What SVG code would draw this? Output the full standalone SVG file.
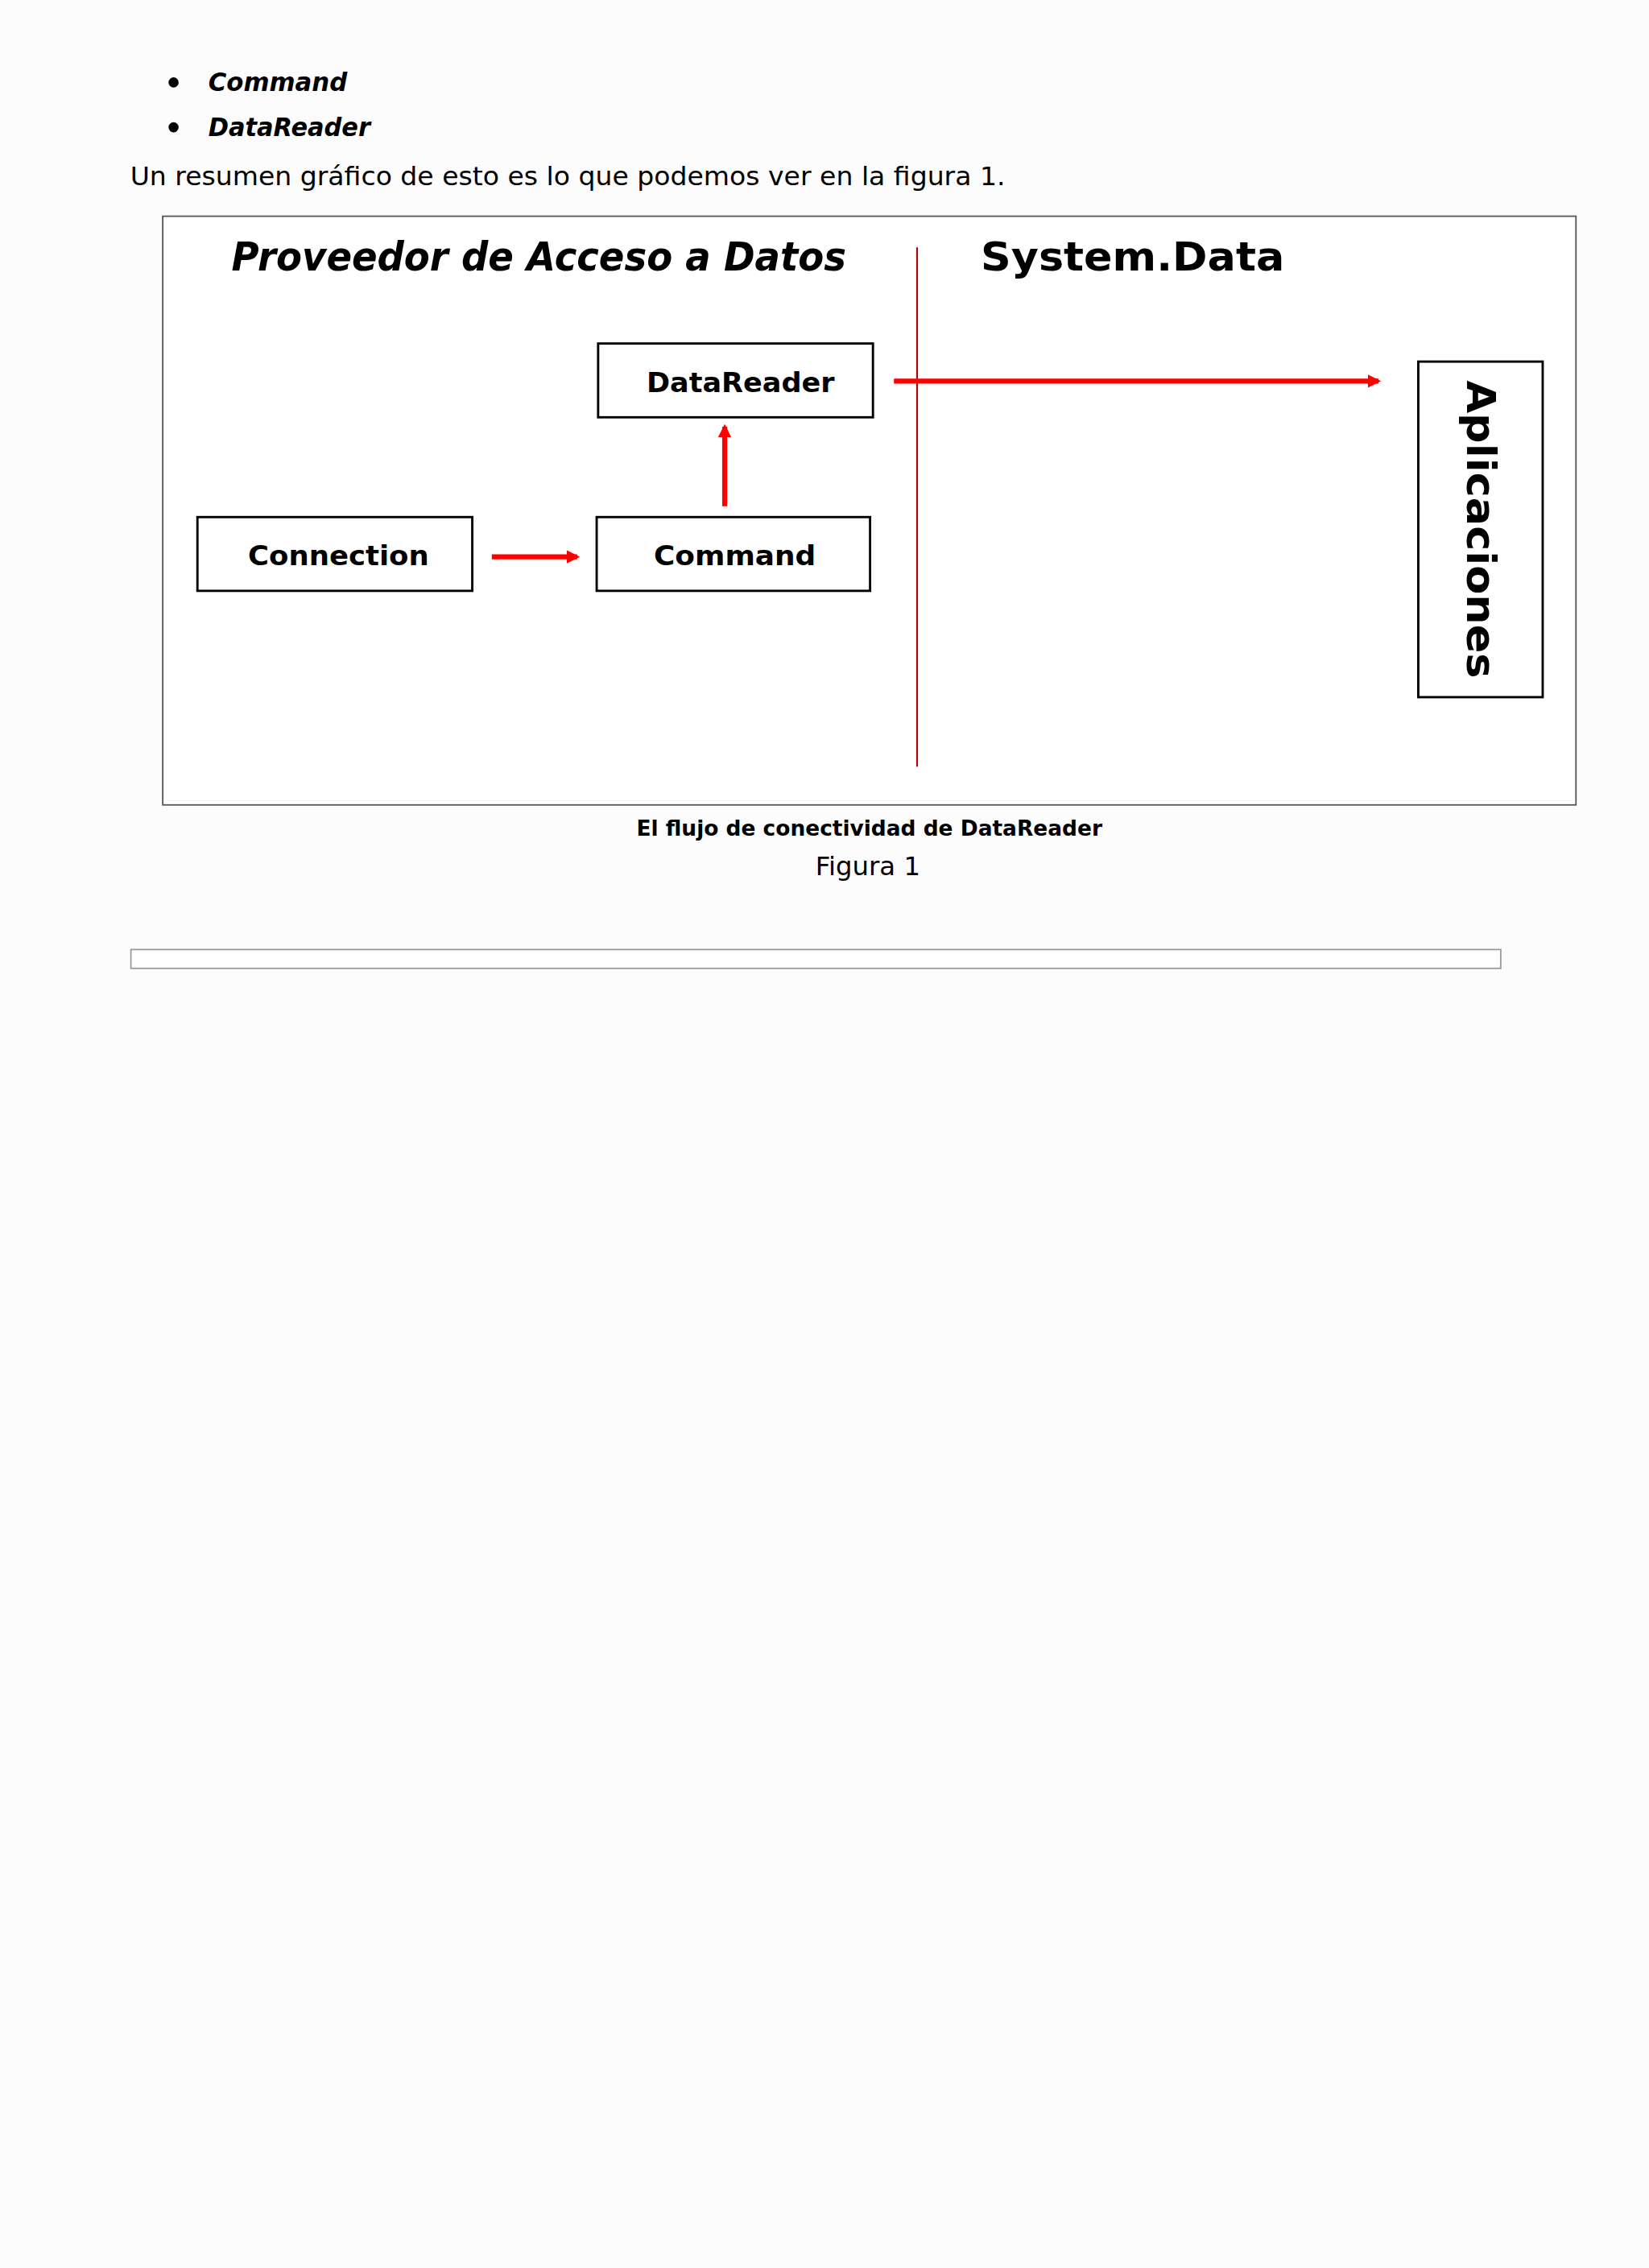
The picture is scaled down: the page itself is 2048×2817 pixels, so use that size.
<svg xmlns="http://www.w3.org/2000/svg" width="2048" height="2817" viewBox="0 0 2048 2817">
<defs>
<style>
.t{font-family:"DejaVu Sans","Liberation Sans",sans-serif;fill:#000}
.box{fill:#fff;stroke:#000;stroke-width:1.6}
.red{stroke:#f00;stroke-width:3.5;fill:none}
</style>
<marker id="ah" viewBox="0 0 10 10" refX="8" refY="5" markerWidth="2.6" markerHeight="3.2" orient="auto" markerUnits="strokeWidth"><path d="M0,0L10,5L0,10z" fill="#f00"/></marker>
</defs>
<rect width="2048" height="2817" fill="#fcfcfc"/>
<g transform="scale(1.7965)">
<g id="text">
<circle cx="120" cy="57" r="3.5" fill="#000"/>
<text class="t" x="144" y="63" font-size="18" font-weight="bold" font-style="italic" textLength="96" lengthAdjust="spacingAndGlyphs">Command</text>
<circle cx="120" cy="88" r="3.5" fill="#000"/>
<text class="t" x="144" y="94" font-size="18" font-weight="bold" font-style="italic" textLength="112" lengthAdjust="spacingAndGlyphs">DataReader</text>
<text class="t" x="90" y="128" font-size="18" textLength="605" lengthAdjust="spacingAndGlyphs">Un resumen gráfico de esto es lo que podemos ver en la figura 1.</text>
</g>
<g id="figure">
<rect x="112.5" y="149.5" width="977" height="407" fill="#fff" stroke="#555" stroke-width="1"/>
<text class="t" x="160" y="187" font-size="28" font-weight="bold" font-style="italic" textLength="425" lengthAdjust="spacingAndGlyphs">Proveedor de Acceso a Datos</text>
<text class="t" x="678" y="187" font-size="28" font-weight="bold" textLength="210" lengthAdjust="spacingAndGlyphs">System.Data</text>
<line x1="634" y1="171" x2="634" y2="530" stroke="#b00000" stroke-width="1.2"/>
</g>
<g id="DataReader"><rect class="box" x="413.5" y="237.5" width="190" height="51"/><text class="t" x="512" y="271" font-size="19" font-weight="bold" text-anchor="middle" textLength="130" lengthAdjust="spacingAndGlyphs">DataReader</text></g>
<g id="Command"><rect class="box" x="412.5" y="357.5" width="189" height="51"/><text class="t" x="508" y="391" font-size="19" font-weight="bold" text-anchor="middle" textLength="112" lengthAdjust="spacingAndGlyphs">Command</text></g>
<g id="Connection"><rect class="box" x="136.5" y="357.5" width="190" height="51"/><text class="t" x="234" y="391" font-size="19" font-weight="bold" text-anchor="middle" textLength="125" lengthAdjust="spacingAndGlyphs">Connection</text></g>
<g id="Aplicaciones"><rect class="box" x="980.5" y="250" width="86" height="232"/><text class="t" transform="translate(1014,366) rotate(90)" font-size="28" font-weight="bold" text-anchor="middle" textLength="206" lengthAdjust="spacingAndGlyphs">Aplicaciones</text></g>
<g id="connectors">
<line class="red" x1="340" y1="385" x2="399" y2="385" marker-end="url(#ah)"/>
<line class="red" x1="501" y1="350" x2="501" y2="295" marker-end="url(#ah)"/>
<line class="red" x1="618" y1="263.5" x2="953" y2="263.5" marker-end="url(#ah)"/>
</g>
<g id="caption">
<text class="t" x="601" y="578" font-size="14.5" font-weight="bold" text-anchor="middle" textLength="322" lengthAdjust="spacingAndGlyphs">El flujo de conectividad de DataReader</text>
<text class="t" x="600" y="605" font-size="18" text-anchor="middle">Figura 1</text>
</g>
<rect x="90.5" y="656.5" width="947" height="13" fill="#fff" stroke="#999" stroke-width="1"/>
</g>
</svg>
